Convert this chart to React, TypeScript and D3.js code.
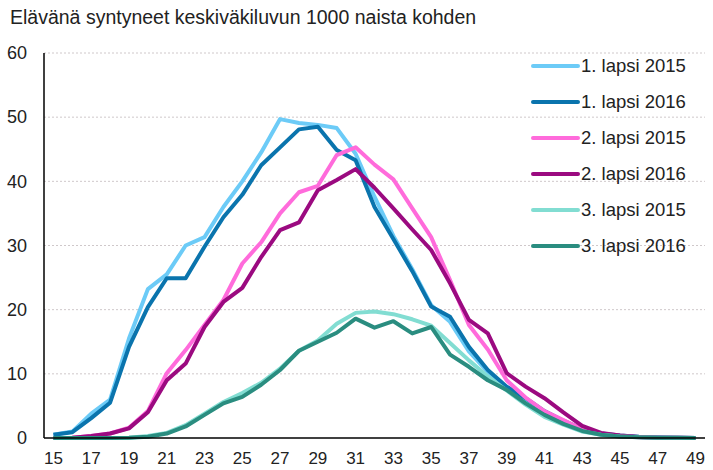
import React from "react";
import * as d3 from "d3";

const ages = d3.range(15, 50);
const yTicks = [0, 10, 20, 30, 40, 50, 60];

const first2015 = [0.5, 1.0, 3.8, 6.0, 15.5, 23.2, 25.5, 30, 31.3, 36, 40, 44.5, 49.7, 49.1, 48.8, 48.3, 44.3, 37.6, 31.5, 26.3, 20.7, 18.1, 13.5, 10.3, 7.8, 5.5, 3.7, 2.5, 1.3, 0.6, 0.3, 0.15, 0.05, 0.02, 0];
const first2016 = [0.5, 0.9, 3.1, 5.5, 14.2, 20.4, 24.9, 24.9, 29.8, 34.4, 37.9, 42.5, 45.3, 48.1, 48.5, 44.9, 43.3, 36.0, 31.0, 26.0, 20.5, 18.9, 14.2, 10.6, 8.0, 6.2, 4.2, 2.7, 1.4, 0.7, 0.4, 0.2, 0.1, 0.03, 0.01];
const second2015 = [0, 0.05, 0.3, 0.7, 1.6, 4.2, 10.1, 13.7, 17.6, 21.5, 27.2, 30.5, 35, 38.3, 39.3, 44.1, 45.3, 42.6, 40.3, 35.8, 31.3, 24.6, 17.6, 13.8, 9.0, 6.3, 4.2, 2.8, 1.4, 0.6, 0.3, 0.1, 0.05, 0.02, 0];
const second2016 = [0, 0.05, 0.3, 0.7, 1.5, 4.0, 9.0, 11.6, 17.3, 21.2, 23.4, 28.2, 32.4, 33.6, 38.6, 40.2, 41.9, 39.0, 35.8, 32.5, 29.3, 24.1, 18.4, 16.3, 10.1, 8.0, 6.2, 4.0, 1.9, 0.8, 0.4, 0.15, 0.05, 0.02, 0];
const third2015 = [0, 0, 0, 0, 0.05, 0.3, 0.8, 2.0, 3.8, 5.6, 7.0, 8.6, 10.8, 13.6, 15.2, 17.8, 19.5, 19.7, 19.3, 18.5, 17.5, 14.8, 12.1, 9.6, 7.4, 5.2, 3.3, 2.1, 1.0, 0.5, 0.25, 0.1, 0.05, 0.02, 0];
const third2016 = [0, 0, 0, 0, 0.05, 0.2, 0.7, 1.8, 3.6, 5.4, 6.4, 8.3, 10.6, 13.6, 15.0, 16.4, 18.6, 17.2, 18.2, 16.3, 17.3, 13.0, 11.1, 9.0, 7.5, 5.4, 3.6, 2.2, 1.1, 0.5, 0.25, 0.1, 0.05, 0.02, 0];

const seriesNames = ["1. lapsi 2015", "1. lapsi 2016", "2. lapsi 2015", "2. lapsi 2016", "3. lapsi 2015", "3. lapsi 2016"];
const seriesValues = [first2015, first2016, second2015, second2016, third2015, third2016];
const colors = ["#6ccbf7", "#0a74ad", "#ff6bdb", "#9b0a80", "#82ddd2", "#2a8d80"];

const W = 713;
const H = 470;
const left = 44;
const right = 705;
const top = 53;
const bottom = 438;
const font = "'Liberation Sans', Arial, sans-serif";

export default function App() {
  const x = d3.scalePoint<number>().domain(ages).range([left, right]).padding(0.5);
  const y = d3.scaleLinear().domain([0, 60]).range([bottom, top]);
  const line = d3
    .line<number>()
    .x((d, i) => x(ages[i]) as number)
    .y(d => y(d));

  return (
    <svg width={W} height={H} style={{ position: "absolute", left: 0, top: 0, background: "#fff" }} fontFamily={font}>
      <text x={10} y={24} fontSize={19.5} fill="#222">
        Elävänä syntyneet keskiväkiluvun 1000 naista kohden
      </text>

      {yTicks.filter(t => t > 0).map(t => (
        <line key={"g" + t} x1={left} x2={right} y1={y(t)} y2={y(t)} stroke="#cfc8ca" strokeDasharray="2,2" />
      ))}

      {yTicks.map(t => (
        <text key={"yl" + t} x={27} y={y(t)} dy="0.35em" textAnchor="end" fontSize={18} fill="#222">
          {t}
        </text>
      ))}

      {ages.filter(a => a % 2 === 1).map(a => (
        <text key={"xl" + a} x={x(a)} y={464} textAnchor="middle" fontSize={17} fill="#222">
          {a}
        </text>
      ))}

      {seriesValues.map((vals, i) => (
        <path key={seriesNames[i]} d={line(vals) || ""} fill="none" stroke={colors[i]} strokeWidth={4} strokeLinejoin="round" />
      ))}

      <line x1={left} x2={left} y1={top} y2={bottom} stroke="#000" strokeWidth={1.5} />
      <line x1={left} x2={right} y1={bottom} y2={bottom} stroke="#000" strokeWidth={1.5} />

      {seriesNames.map((name, i) => {
        const ly = 66 + i * 36;
        return (
          <g key={"lg" + i}>
            <line x1={533} x2={578} y1={ly} y2={ly} stroke={colors[i]} strokeWidth={4} strokeLinecap="round" />
            <text x={581} y={ly} dy="0.35em" fontSize={18.5} fill="#222">
              {name}
            </text>
          </g>
        );
      })}
    </svg>
  );
}
